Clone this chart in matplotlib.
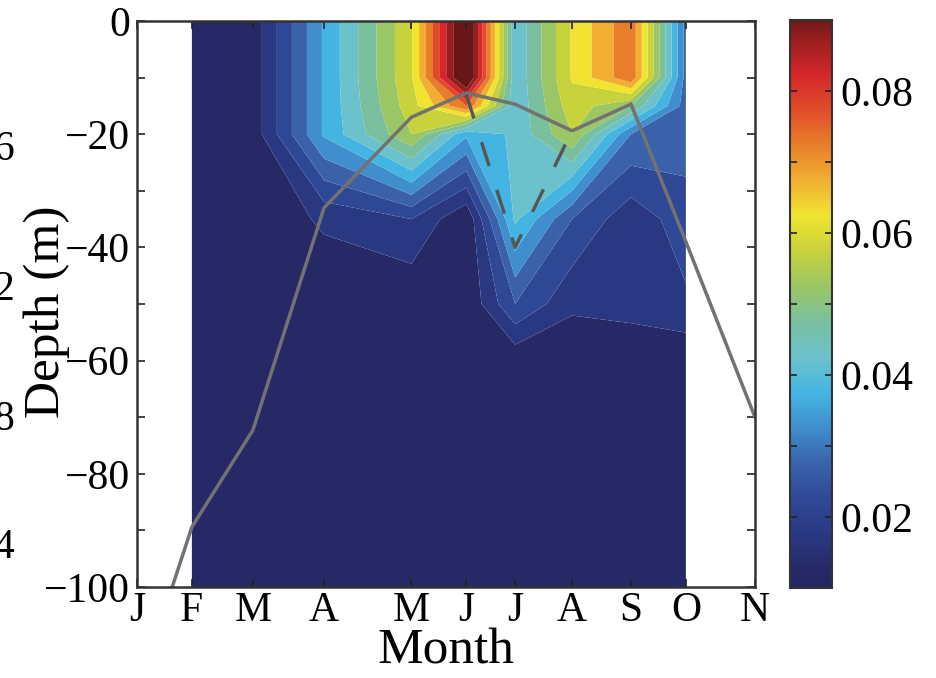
import numpy as np
import matplotlib
matplotlib.use("Agg")
import matplotlib.pyplot as plt
from matplotlib.colors import LinearSegmentedColormap, Normalize
from matplotlib.cm import ScalarMappable
from matplotlib.ticker import FixedLocator

plt.rcParams['font.family'] = ['Liberation Serif', 'DejaVu Serif']

# ---------------- data ----------------
month_labels = ["J", "F", "M", "A", "M", "J", "J", "A", "S", "O", "N"]
month_day = [0, 27, 57, 92, 135, 162, 186, 214, 243, 270, 304]

# sampling dates (F ... O) and sampled depths (m)
sample_day = [27, 57, 92, 135, 162, 186, 214, 243, 270]
sample_depth = [0, -10, -15, -20, -35, -50, -60, -100]

# concentration profiles at each sampling date (same order as sample_depth)
prof_feb = [0.0105, 0.0105, 0.0105, 0.0105, 0.0105, 0.0105, 0.0105, 0.0105]
prof_mar = [0.0120, 0.0120, 0.0120, 0.0120, 0.0105, 0.0105, 0.0105, 0.0105]
prof_apr = [0.0357, 0.0357, 0.0357, 0.0357, 0.0160, 0.0105, 0.0105, 0.0105]
prof_may = [0.0595, 0.0595, 0.0580, 0.0550, 0.0200, 0.0105, 0.0105, 0.0105]
prof_jun = [0.0990, 0.0990, 0.0750, 0.0360, 0.0105, 0.0105, 0.0105, 0.0105]
prof_jul = [0.0410, 0.0410, 0.0410, 0.0410, 0.0410, 0.0250, 0.0111, 0.0105]
prof_aug = [0.0605, 0.0605, 0.0580, 0.0550, 0.0250, 0.0160, 0.0111, 0.0105]
prof_sep = [0.0740, 0.0740, 0.0500, 0.0300, 0.0165, 0.0170, 0.0111, 0.0105]
prof_oct = [0.0280, 0.0280, 0.0275, 0.0270, 0.0230, 0.0190, 0.0111, 0.0105]

# mixed layer depth (solid) at each month tick
mld_depth = [-119, -89.4, -72.3, -33, -17, -12.7, -14.7, -19.4, -14.7, -39, -70]
# dashed line (J, J, A)
dash_day = [162, 186, 214]
dash_depth = [-13, -40, -19.4]

cbar_ticks = [0.02, 0.04, 0.06, 0.08]
cbar_minor = [0.03, 0.05, 0.07]
depth_ticks = [-100, -80, -60, -40, -20, 0]
depth_minor = [-90, -70, -50, -30, -10]

# ---------------- colormap (muted jet) ----------------
anchor_val = [0.010, 0.0125, 0.0175, 0.0225, 0.0275, 0.0325, 0.0375, 0.0425,
              0.0475, 0.0525, 0.0575, 0.0625, 0.0675, 0.0725, 0.0775, 0.0825,
              0.0875, 0.090]
anchor_rgb = [(36, 38, 98), (38, 41, 102), (42, 56, 130), (47, 72, 150),
              (58, 98, 170), (64, 142, 205), (68, 182, 226), (108, 194, 205),
              (122, 192, 160), (155, 198, 100), (200, 210, 60), (240, 228, 48),
              (240, 175, 50), (232, 125, 42), (225, 75, 42), (212, 38, 44),
              (150, 30, 30), (110, 24, 24)]
vmin, vmax = 0.01, 0.09
cmap = LinearSegmentedColormap.from_list(
    "mutedjet",
    [((v - vmin) / (vmax - vmin), tuple(c / 255 for c in rgb))
     for v, rgb in zip(anchor_val, anchor_rgb)], N=512)
cmap.set_over((105 / 255, 22 / 255, 22 / 255))
norm = Normalize(vmin, vmax)

# ---------------- figure ----------------
W, H = 937, 678
fig = plt.figure(figsize=(W / 100, H / 100), dpi=100)
ax = fig.add_axes([137 / W, 1 - 587 / H, (755 - 137) / W, (587 - 21) / H])

Z = np.column_stack([prof_feb, prof_mar, prof_apr, prof_may, prof_jun,
                     prof_jul, prof_aug, prof_sep, prof_oct])
levels = np.arange(0.01, 0.09001, 0.005)
ax.contourf(sample_day, sample_depth, Z, levels=levels, cmap=cmap, norm=norm,
            extend='max', antialiased=True)

ax.plot(month_day, mld_depth, color='#727272', lw=2.5, solid_joinstyle='miter')
ax.plot(dash_day, dash_depth, color='#555555', lw=2.4, dashes=(7.5, 7.5))

ax.set_xlim(0, 304)
ax.set_ylim(-100, 0)
ax.set_xticks(month_day)
ax.set_xticklabels(month_labels)
ax.set_yticks(depth_ticks)
ax.yaxis.set_minor_locator(FixedLocator(depth_minor))
ax.tick_params(which='both', direction='in', top=True, right=True,
               length=6, width=1.2, color='#222222', labelsize=30, pad=5)
ax.tick_params(axis='x', pad=3)
for s in ax.spines.values():
    s.set_linewidth(1.8)
    s.set_color('#333333')
ax.set_xlabel("Month", fontsize=37)
ax.xaxis.set_label_coords(0.5, (587 - 664) / (587 - 21))
ax.xaxis.label.set_va('baseline')
ax.set_ylabel("Depth (m)", fontsize=37)
ax.yaxis.set_label_coords((70 - 137) / (755 - 137), (587 - 312) / (587 - 21))

# colorbar
cax = fig.add_axes([790 / W, 1 - 588 / H, 42 / W, (588 - 20) / H])
cb = fig.colorbar(ScalarMappable(norm=norm, cmap=cmap), cax=cax)
cb.set_ticks(cbar_ticks)
cb.set_ticklabels(["%.2f" % t for t in cbar_ticks])
cb.ax.yaxis.set_minor_locator(FixedLocator(cbar_minor))
cb.ax.tick_params(which='both', direction='in', left=True, right=True,
                  length=5, width=1.2, color='#222222', labelsize=30, pad=6)
cb.outline.set_linewidth(1.5)
cb.outline.set_edgecolor('#333333')

# cropped fragments of neighbouring panel labels at left edge (as in the source crop)
for txt, yy in zip(["6", "2", "8", "4"], [150, 290, 420, 548]):
    fig.text(14 / W, 1 - yy / H, txt, fontsize=30, ha='right', va='center')

fig.savefig("out.png", dpi=100)
